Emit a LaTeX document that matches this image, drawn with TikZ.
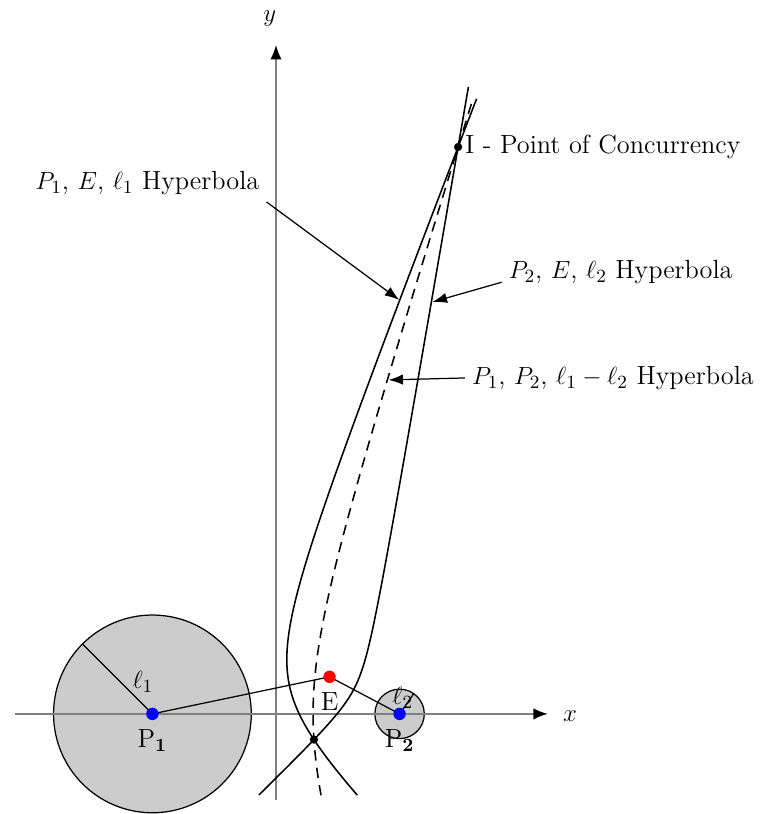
\documentclass[tikz,border=0pt]{standalone}
\usepackage{amsmath, amssymb}
\usetikzlibrary{arrows.meta, positioning}

\begin{document}
\begin{tikzpicture}[x=0.7cm, y=0.7cm,
    every node/.style={font=\fontsize{12.7}{15}\selectfont},
    axis/.style={line width=0.9pt, black!50, -{Latex[length=7pt, width=5.5pt, color=black]}},
    curve/.style={line width=0.75pt, smooth, samples=150},
    tag/.style={line width=0.6pt, -{Latex[length=7pt, width=5pt]}},
    focus/.style={circle, inner sep=0pt, minimum size=6pt},
    meet/.style={circle, fill=black, inner sep=0pt, minimum size=4pt}]
  \useasboundingbox (-6.70,-2.43) rectangle (11.85,17.33);
  \coordinate (P1) at (-3,0);
  \coordinate (P2) at (3,0);
  \coordinate (E) at (1.3,0.9);
  \coordinate (I) at (4.420,13.762);
  \coordinate (L) at (0.921,-0.624);
  % circles of radius l1, l2
  \draw[line width=0.6pt, fill=gray!40] (P1) circle (2.4);
  \draw[line width=0.6pt, fill=gray!40] (P2) circle (0.6);
  % axes
  \draw[axis] (-6.34,0) -- (6.60,0);
  \draw[axis] (0,-2.09) -- (0,16.24);
  \node (xlab) at (7.14,-0.05) {$x$};
  \node (ylab) at (-0.15,16.89) {$y$};
  % radii and ranges
  \draw[line width=0.6pt] (P1) -- ++(135:2.4);
  \draw[line width=0.6pt] (P2) -- ++(55:0.6);
  \node (l1) at (-3.23,0.78) {$\ell_1$};
  \node (l2) at (3.08,0.39) {$\ell_2$};
  \draw[line width=0.6pt] (P1) -- (E) -- (P2);
  % hyperbolas
  \draw[curve, shift={(-0.85,0.45)}, rotate=11.821] plot[domain=-1.25:2.655] ({1.2*cosh(\x)},{1.8399*sinh(\x)});
  \draw[curve, shift={(2.15,0.45)}, rotate=152.103] plot[domain=-3.44:2.009] ({0.3*cosh(\x)},{0.91378*sinh(\x)});
  \draw[curve, dash pattern=on 5pt off 3.5pt] plot[domain=-0.645:2.355] ({0.9*cosh(\x)},{2.8618*sinh(\x)});
  % labels
  \node (lab1) at (-3.12,12.89) {$P_1$, $E$, $\ell_1$ Hyperbola};
  \node (lab2) at (8.37,10.73) {$P_2$, $E$, $\ell_2$ Hyperbola};
  \node (lab3) at (8.18,8.155) {$P_1$, $P_2$, $\ell_1-\ell_2$ Hyperbola};
  \coordinate (t1) at (2.99,10.05);
  \coordinate (t2) at (3.80,10.0);
  \coordinate (t3) at (2.73,8.107);
  \draw[tag] (lab1.south east) -- (t1);
  \draw[tag] ([yshift=-5pt]lab2.west) -- (t2);
  \draw[tag] (lab3.west) -- (t3);
  % points
  \node[focus, fill=blue] (p1) at (P1) {};
  \node[focus, fill=blue] (p2) at (P2) {};
  \node[focus, fill=red] (e) at (E) {};
  \node[meet] (i) at (I) {};
  \node[meet] (l) at (L) {};
  \node[below=1pt of p1] (p1lab) {P$_{\mathbf 1}$};
  \node[below=1pt of p2] (p2lab) {P$_{\mathbf 2}$};
  \node[below=1pt of e] (elab) {E};
  \node[right=0pt of i, inner sep=1pt] (ilab) {I - Point of Concurrency};
\end{tikzpicture}
\end{document}
